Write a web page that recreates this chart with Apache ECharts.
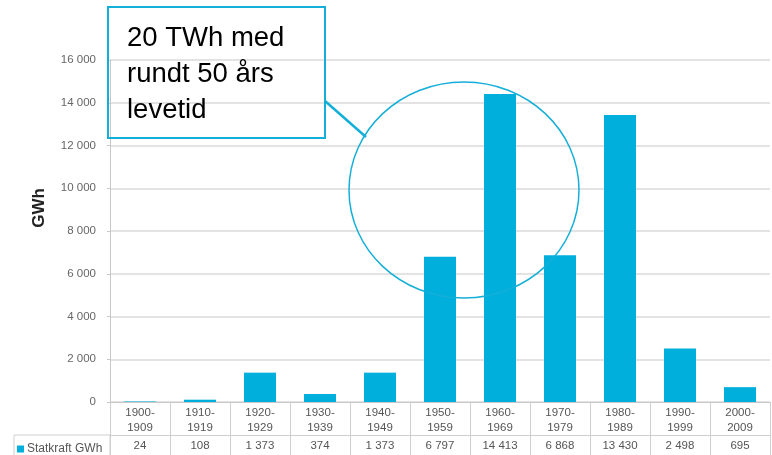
<!DOCTYPE html>
<html>
<head>
<meta charset="utf-8">
<script src="https://cdn.jsdelivr.net/npm/echarts@6/dist/echarts.min.js"></script>
<style>
  html, body { margin: 0; padding: 0; background: #fff; }
  #chart { width: 772px; height: 455px; }
</style>
</head>
<body>
<div id="chart"></div>
<script>
// Data
const decades = ['1900-\n1909', '1910-\n1919', '1920-\n1929', '1930-\n1939', '1940-\n1949',
                 '1950-\n1959', '1960-\n1969', '1970-\n1979', '1980-\n1989', '1990-\n1999', '2000-\n2009'];
const statkraftGWh = [24, 108, 1373, 374, 1373, 6797, 14413, 6868, 13430, 2498, 695];
const seriesName = 'Statkraft GWh';
const noteLines = ['20 TWh med', 'rundt 50 års', 'levetid'];

const BLUE = '#00AFDB';
const FONT = '"Liberation Sans", Arial, sans-serif';

// 1373 -> "1 373"
function spaced(n){
    return String(n).replace(/\B(?=(\d{3})+(?!\d))/g, ' ');
}

const chart = echarts.init(document.getElementById('chart'));
chart.setOption({
    animation: false,
    textStyle: { fontFamily: FONT },
    grid: { left: 110, right: 2, top: 60, bottom: 53 },
    legend: {
        data: [seriesName],
        left: 12, top: 438,
        icon: 'rect', itemWidth: 7, itemHeight: 7, itemGap: 4,
        textStyle: { fontSize: 12, color: '#555', fontFamily: FONT, padding: [0, 0, 0, -2] }
    },
    xAxis: [{
        type: 'category',
        data: decades,
        axisLine: { lineStyle: { color: '#c8c8c8', width: 1 } },
        axisTick: { show: true, interval: 0, length: 53, lineStyle: { color: '#cfcfcf' } },
        axisLabel: { interval: 0, fontSize: 11.5, color: '#555', lineHeight: 15, margin: 3 }
    }, {
        type: 'category',
        position: 'bottom',
        offset: 33,
        data: statkraftGWh.map(spaced),
        axisLine: { lineStyle: { color: '#cfcfcf', width: 1 } },
        axisTick: { show: false },
        axisLabel: { interval: 0, fontSize: 11.5, color: '#555', margin: 5 }
    }],
    yAxis: {
        type: 'value',
        min: 0, max: 16000, interval: 2000,
        name: 'GWh',
        nameLocation: 'middle',
        nameRotate: 90,
        nameGap: 62,
        nameTextStyle: { fontSize: 17, fontWeight: 'bold', color: '#222', padding: [0, 0, 0, 46] },
        axisLine: { show: true, lineStyle: { color: '#c8c8c8' } },
        axisTick: { show: true, inside: false, length: 3, lineStyle: { color: '#c8c8c8' } },
        axisLabel: { fontSize: 11.5, color: '#666', margin: 14, formatter: spaced },
        splitLine: { lineStyle: { color: '#dadada', width: 1.5 } }
    },
    series: [{
        name: seriesName,
        type: 'bar',
        data: statkraftGWh,
        barWidth: 32,
        itemStyle: { color: BLUE }
    }],
    graphic: [
        // left cell of the data table
        { type: 'rect', shape: { x: 14, y: 435, width: 96, height: 22 },
          style: { fill: 'none', stroke: '#cfcfcf', lineWidth: 1 }, z: 10 },
        // callout box
        { type: 'rect', shape: { x: 108, y: 7, width: 217, height: 131 },
          style: { fill: 'none', stroke: '#14AFD8', lineWidth: 2 }, z: 20 },
        { type: 'text', left: 127, top: 20, z: 21,
          style: { text: noteLines.join('\n'), font: '27.5px ' + FONT, fill: '#000', lineHeight: 36 } },
        // connector and ellipse
        { type: 'line', shape: { x1: 325, y1: 101, x2: 366, y2: 137 },
          style: { stroke: '#14AFD8', lineWidth: 2.5 }, z: 20 },
        { type: 'ellipse', shape: { cx: 464, cy: 190, rx: 115, ry: 108 },
          style: { fill: 'none', stroke: '#14AFD8', lineWidth: 1.5 }, z: 20 }
    ]
});
</script>
</body>
</html>
